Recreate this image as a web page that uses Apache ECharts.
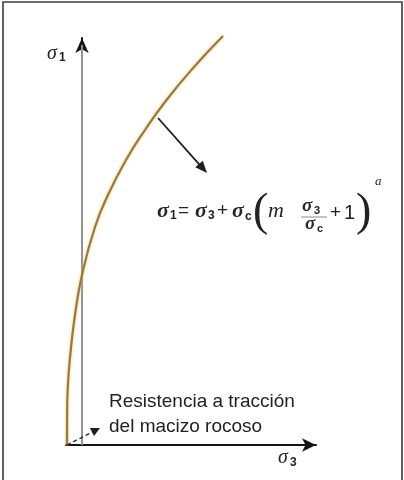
<!DOCTYPE html>
<html>
<head>
<meta charset="utf-8">
<script src="https://cdn.jsdelivr.net/npm/echarts@6/dist/echarts.min.js"></script>
<style>
  html, body { margin: 0; padding: 0; background: #ffffff; }
  #chart { width: 404px; height: 480px; }
</style>
</head>
<body>
<div id="chart"></div>
<script>
// Hoek–Brown failure envelope: minor principal stress σ3 (horizontal)
// against major principal stress σ1 (vertical), arbitrary stress units.
const sigma3 = [-1.5, -1.49, -1.41, -1.12, -0.7, 0.0, 1.3, 2.6, 4.4, 6.3, 8.45, 11.2, 14.1];
const sigma1 = [0, 3.0, 6.0, 9.5, 13.0, 17.0, 21.8, 25.0, 28.5, 31.5, 34.5, 37.8, 40.9];

// Axis extents (σ3 starts left of zero so the tensile point is visible)
const sigma3Range = [-1.6, 23.4];
const sigma1Range = [0, 40.7];

// The σ1 axis shaft is drawn in grey up to the base of its arrowhead
const sigma1ShaftTop = 40.0;

// Text
const annotationLines = ['Resistencia a tracción', 'del macizo rocoso'];

const envelope = sigma3.map((s3, i) => [s3, sigma1[i]]);

const chart = echarts.init(document.getElementById('chart'), null, { renderer: 'canvas' });

const serifItalic = { fontFamily: 'Liberation Serif', fontStyle: 'italic', fontWeight: 'bold', fill: '#262626' };
const sans = { fontFamily: 'Liberation Sans', fill: '#222' };
const serif = { fontFamily: 'Liberation Serif', fill: '#222' };

function txt(x, y, text, size, base, extra) {
  return {
    type: 'text', x: x, y: y, z: 10,
    style: Object.assign({ text: text, fontSize: size, verticalAlign: 'middle', align: 'left' }, base, extra || {})
  };
}

const option = {
  animation: false,
  backgroundColor: '#ffffff',
  grid: { left: 66, right: 88, top: 38, bottom: 35, containLabel: false },
  xAxis: {
    type: 'value', min: sigma3Range[0], max: sigma3Range[1],
    axisLine: {
      show: true, onZero: false,
      symbol: ['none', 'arrow'], symbolSize: [10, 14],
      lineStyle: { color: '#151515', width: 2 }
    },
    axisTick: { show: false }, axisLabel: { show: false }, splitLine: { show: false }
  },
  yAxis: {
    type: 'value', min: sigma1Range[0], max: sigma1Range[1],
    axisLine: {
      show: true, onZero: true,
      symbol: ['none', 'arrow'], symbolSize: [10, 15],
      lineStyle: { color: '#151515', width: 2 }
    },
    axisTick: { show: false }, axisLabel: { show: false }, splitLine: { show: false }
  },
  series: [
    {
      name: 'eje σ1', type: 'line', symbol: 'none', silent: true, z: 1,
      data: [[0, 0], [0, sigma1ShaftTop]],
      lineStyle: { color: '#939393', width: 2 }
    },
    {
      name: 'envolvente', type: 'line', symbol: 'none', smooth: 0.5, clip: false, z: 3,
      data: envelope,
      lineStyle: {
        color: '#9a7a3a', width: 2.2,
        shadowColor: 'rgba(238, 200, 100, 0.95)', shadowBlur: 3
      }
    }
  ]
};

chart.setOption(option);

// Annotations placed after layout so the tensile arrow starts at the envelope's first point
const tensile = chart.convertToPixel({ gridIndex: 0 }, envelope[0]);
const dashEnd = [100, 428];
const ang = Math.atan2(dashEnd[1] - tensile[1], dashEnd[0] - tensile[0]);
function head(tip, a, len, half) {
  const bx = tip[0] - len * Math.cos(a), by = tip[1] - len * Math.sin(a);
  return [tip, [bx + half * Math.sin(a), by - half * Math.cos(a)], [bx - half * Math.sin(a), by + half * Math.cos(a)]];
}

const arrowStart = [158, 118], arrowTip = [207, 173];
const arrowAng = Math.atan2(arrowTip[1] - arrowStart[1], arrowTip[0] - arrowStart[0]);

chart.setOption({
  graphic: [
    // frame
    { type: 'rect', shape: { x: 3, y: 2, width: 399, height: 500 }, z: 20,
      style: { fill: null, stroke: '#3c3c3c', lineWidth: 1.6 } },

    // axis names
    txt(47, 54, 'σ', 20, serifItalic, { fontWeight: 'normal' }),
    txt(59, 58, '1', 12, sans, { fontWeight: 'bold' }),
    txt(278, 458, 'σ', 20, serifItalic, { fontWeight: 'normal' }),
    txt(290, 463, '3', 12, sans, { fontWeight: 'bold' }),

    // pointer to the envelope
    { type: 'line', z: 10, shape: { x1: arrowStart[0], y1: arrowStart[1],
        x2: arrowTip[0] - 9 * Math.cos(arrowAng), y2: arrowTip[1] - 9 * Math.sin(arrowAng) },
      style: { stroke: '#1e1e1e', lineWidth: 1.8 } },
    { type: 'polygon', z: 10, shape: { points: head(arrowTip, arrowAng, 12, 5) },
      style: { fill: '#1e1e1e' } },

    // σ1 = σ3 + σc (m σ3/σc + 1)^a
    txt(157, 211, 'σ', 22, serifItalic),
    txt(170, 216, '1', 12, sans, { fontWeight: 'bold' }),
    txt(178, 211, '=', 19, sans),
    txt(195, 211, 'σ', 22, serifItalic),
    txt(208, 216, '3', 12, sans, { fontWeight: 'bold' }),
    txt(217, 211, '+', 19, sans),
    txt(232, 211, 'σ', 22, serifItalic),
    txt(245, 217, 'c', 12, sans, { fontWeight: 'bold' }),
    txt(253, 213, '(', 46, serif),
    txt(268, 211, 'm', 22, serifItalic, { fontWeight: 'normal' }),
    txt(302, 206, 'σ', 19, serifItalic),
    txt(314, 211, '3', 11, sans, { fontWeight: 'bold' }),
    { type: 'line', z: 10, shape: { x1: 301, y1: 217, x2: 327, y2: 217 },
      style: { stroke: '#8a8a8a', lineWidth: 1 } },
    txt(305, 224, 'σ', 19, serifItalic),
    txt(317, 229, 'c', 11, sans, { fontWeight: 'bold' }),
    txt(330, 213, '+', 19, sans),
    txt(344, 213, '1', 20, sans),
    txt(356, 213, ')', 46, serif),
    txt(375, 182, 'a', 13, serifItalic, { fontWeight: 'normal' }),

    // tensile strength annotation
    txt(109, 402, annotationLines[0], 19, sans, { fill: '#222' }),
    txt(109, 427, annotationLines[1], 19, sans, { fill: '#222' }),
    { type: 'line', z: 10, shape: { x1: tensile[0], y1: tensile[1],
        x2: dashEnd[0] - 7 * Math.cos(ang), y2: dashEnd[1] - 7 * Math.sin(ang) },
      style: { stroke: '#2a2a2a', lineWidth: 1.4, lineDash: [4, 3] } },
    { type: 'polygon', z: 10, shape: { points: head(dashEnd, ang, 9, 4.5) },
      style: { fill: '#1e1e1e' } }
  ]
});
</script>
</body>
</html>
